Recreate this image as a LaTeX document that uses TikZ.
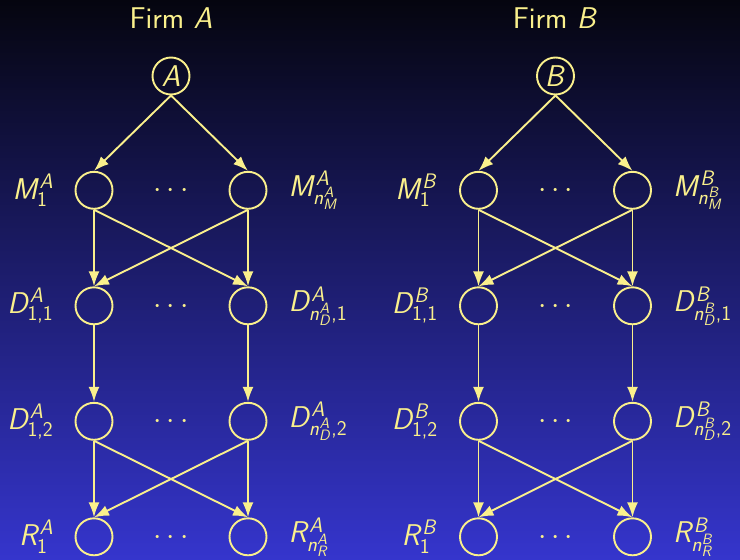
\RequirePackage{fix-cm}
\documentclass[tikz,border=0pt]{standalone}
\usetikzlibrary{arrows.meta}

% formulas set with sans-serif slanted letters and upright sans digits
\DeclareSymbolFont{sfletters}{OT1}{cmss}{m}{sl}
\DeclareSymbolFont{sfdigits}{OT1}{cmss}{m}{n}
\DeclareMathSymbol{A}{\mathalpha}{sfletters}{`A}
\DeclareMathSymbol{B}{\mathalpha}{sfletters}{`B}
\DeclareMathSymbol{D}{\mathalpha}{sfletters}{`D}
\DeclareMathSymbol{M}{\mathalpha}{sfletters}{`M}
\DeclareMathSymbol{R}{\mathalpha}{sfletters}{`R}
\DeclareMathSymbol{n}{\mathalpha}{sfletters}{`n}
\DeclareMathSymbol{1}{\mathord}{sfdigits}{`1}
\DeclareMathSymbol{2}{\mathord}{sfdigits}{`2}
\DeclareMathSymbol{,}{\mathpunct}{sfdigits}{`,}

\definecolor{fg}{RGB}{250,240,140}
\definecolor{bgtop}{RGB}{5,5,15}
\definecolor{bgbot}{RGB}{53,53,205}

% one firm: #1 letter, #2 left column, #3 right column, #4 centre column
\newcommand\drawfirm[4]{%
  \node[anchor=base] (#1-title) at (#4,28) {Firm $#1$};
  \node[unit] (#1-top) at (#4,76) {$#1$};
  % rows of units
  \node[unit, label={[lab,label distance=21pt]left:{$M_1^#1$}}] (#1-m1) at (#2,190.3) {};
  \node[unit, label={[lab,label distance=21pt]right:{$M_{n_M^#1}^#1$}}] (#1-mn) at (#3,190.3) {};
  \node[unit, label={[lab,label distance=21pt]left:{$D_{1,1}^#1$}}] (#1-d11) at (#2,305.8) {};
  \node[unit, label={[lab,label distance=21pt]right:{$D_{n_D^#1,1}^#1$}}] (#1-dn1) at (#3,305.8) {};
  \node[unit, label={[lab,label distance=21pt]left:{$D_{1,2}^#1$}}] (#1-d12) at (#2,421.3) {};
  \node[unit, label={[lab,label distance=21pt]right:{$D_{n_D^#1,2}^#1$}}] (#1-dn2) at (#3,421.3) {};
  \node[unit, label={[lab,label distance=21pt]left:{$R_1^#1$}}] (#1-r1) at (#2,536.8) {};
  \node[unit, label={[lab,label distance=21pt]right:{$R_{n_R^#1}^#1$}}] (#1-rn) at (#3,536.8) {};
  % ellipses between the columns
  \node[anchor=base] (#1-dotsm) at (#4,197.8) {$\cdots$};
  \node[anchor=base] (#1-dotsd1) at (#4,313.3) {$\cdots$};
  \node[anchor=base] (#1-dotsd2) at (#4,428.8) {$\cdots$};
  \node[anchor=base] (#1-dotsr) at (#4,544.3) {$\cdots$};
  % connections
  \draw[conn] (#1-top.south) -- (#1-m1.north);
  \draw[conn] (#1-top.south) -- (#1-mn.north);
  \draw[conn] (#1-m1.south) -- (#1-d11.north);
  \draw[conn] (#1-m1.south) -- (#1-dn1.north);
  \draw[conn] (#1-mn.south) -- (#1-d11.north);
  \draw[conn] (#1-mn.south) -- (#1-dn1.north);
  \draw[conn] (#1-d11.south) -- (#1-d12.north);
  \draw[conn] (#1-dn1.south) -- (#1-dn2.north);
  \draw[conn] (#1-d12.south) -- (#1-r1.north);
  \draw[conn] (#1-d12.south) -- (#1-rn.north);
  \draw[conn] (#1-dn2.south) -- (#1-r1.north);
  \draw[conn] (#1-dn2.south) -- (#1-rn.north);
}

\begin{document}
\begin{tikzpicture}[x=1pt,y=-1pt,
  every node/.style={text=fg, font=\sffamily\fontsize{30}{34}\selectfont},
  unit/.style={circle, draw=fg, line width=1.9pt, minimum size=37pt, inner sep=0pt},
  conn/.style={draw=fg, line width=1.9pt, -{Latex[length=15pt,width=11pt]}},
  lab/.style={inner sep=0pt},
]
\shade[top color=bgtop, bottom color=bgbot] (0,0) rectangle (740,560);
\useasboundingbox (0,0) rectangle (740,560);
\drawfirm{A}{94}{248}{171}
\drawfirm{B}{478.5}{632.5}{555.5}
\end{tikzpicture}
\end{document}
